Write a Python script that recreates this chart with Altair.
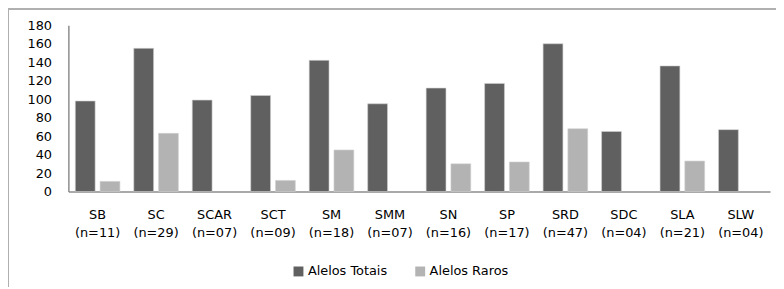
import altair as alt
import pandas as pd

populations = ["SB", "SC", "SCAR", "SCT", "SM", "SMM", "SN", "SP", "SRD", "SDC", "SLA", "SLW"]
sample_sizes = ["(n=11)", "(n=29)", "(n=07)", "(n=09)", "(n=18)", "(n=07)", "(n=16)", "(n=17)", "(n=47)", "(n=04)", "(n=21)", "(n=04)"]
alelos_totais = [98, 155, 99, 104, 142, 95, 112, 117, 160, 65, 136, 67]
alelos_raros = [11, 63, None, 12, 45, None, 30, 32, 68, None, 33, None]
series = ["Alelos Totais", "Alelos Raros"]
y_ticks = [0, 20, 40, 60, 80, 100, 120, 140, 160, 180]

labels = [f"{p}|{n}" for p, n in zip(populations, sample_sizes)]
rows = []
for lab, t, r in zip(labels, alelos_totais, alelos_raros):
    rows.append({"grupo": lab, "serie": series[0], "valor": t})
    if r is not None:
        rows.append({"grupo": lab, "serie": series[1], "valor": r})
df = pd.DataFrame(rows)

FONT = "DejaVu Sans"
FS = 13
AXIS_COLOR = "#8c8c8c"

bars = alt.Chart(df).mark_bar(stroke="#cfcfcf", strokeWidth=0.6).encode(
    x=alt.X("grupo:N", sort=labels, title=None,
            scale=alt.Scale(paddingInner=0, paddingOuter=0),
            axis=alt.Axis(labelExpr="split(datum.value, '|')", labelAngle=0,
                          ticks=False, domainColor=AXIS_COLOR, domainWidth=1.5,
                          labelFont=FONT, labelFontSize=FS, labelColor="#000000",
                          labelLineHeight=18, labelPadding=17, grid=False)),
    xOffset=alt.XOffset("serie:N", sort=series,
                        scale=alt.Scale(domain=series, paddingInner=0.2, paddingOuter=0.28)),
    y=alt.Y("valor:Q", title=None,
            scale=alt.Scale(domain=[0, 180], nice=False),
            axis=alt.Axis(values=y_ticks, ticks=False, grid=False, domainColor=AXIS_COLOR,
                          domainWidth=1.5, labelFont=FONT, labelFontSize=FS,
                          labelColor="#000000", labelPadding=17)),
    color=alt.Color("serie:N", sort=series,
                    scale=alt.Scale(domain=series, range=["#606060", "#b3b3b3"]),
                    legend=alt.Legend(title=None, orient="none", direction="horizontal",
                                      legendX=226, legendY=242, symbolType="square",
                                      symbolSize=100, symbolStrokeWidth=0,
                                      labelFont=FONT, labelFontSize=FS, labelColor="#000000",
                                      columnPadding=26, labelOffset=3)),
)

frame_top = alt.Chart(df).mark_rule(color="#b0b0b0", strokeWidth=2).encode(
    x=alt.value(-61), x2=alt.value(800), y=alt.value(-17))
frame_left = alt.Chart(df).mark_rule(color="#b0b0b0", strokeWidth=2).encode(
    x=alt.value(-61), y=alt.value(-17), y2=alt.value(280))

chart = alt.layer(bars, frame_top, frame_left).properties(
    width=709, height=168,
    autosize="none",
    padding={"left": 61, "top": 16, "right": 6, "bottom": 95},
).configure_view(stroke=None)

chart.save("out.html", embed_options={"renderer": "svg", "actions": False})
